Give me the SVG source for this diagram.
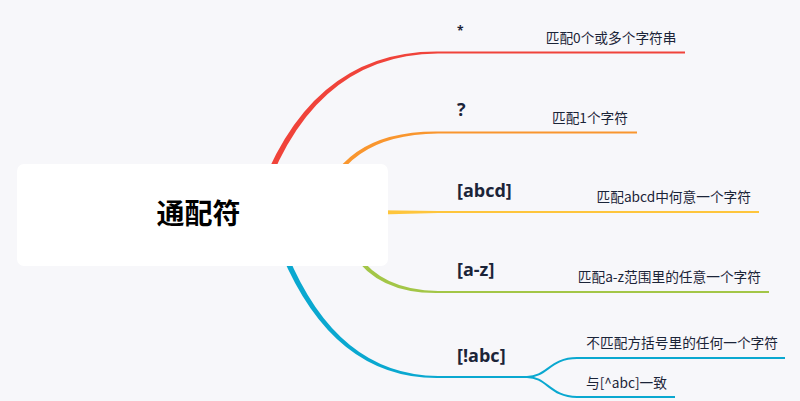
<svg xmlns="http://www.w3.org/2000/svg" width="800" height="401" viewBox="0 0 800 401">
<style>
.lbl{font-family:"Open Sans","Noto Sans CJK SC",sans-serif;font-weight:700;font-size:18px;fill:#1B2438}
.sub{font-family:"Noto Sans CJK SC","Noto Sans",sans-serif;font-size:13.7px;fill:#1B2438;text-anchor:end}
.ln{fill:none;stroke-width:2;stroke-linecap:butt}
</style>
<rect width="800" height="401" fill="#F7F7FA"/>
<g id="connectors">
  <path d="M252 213 Q303.5 50.5 438 51.5 L438 53.5 Q306.5 54.5 258 215 Z" fill="#F0433A"/>
  <path d="M438 52.5 H685" class="ln" stroke="#F0433A"/>
  <path d="M317.6 213.5 Q337 130.5 438 131.5 L438 133.5 Q339.5 134.5 322.4 214.5 Z" fill="#F9962E"/>
  <path d="M438 132.5 H637" class="ln" stroke="#F9962E"/>
  <path d="M380 210.2 L438 211 L438 213 L380 214.4 Z" fill="#FEC53C"/>
  <path d="M438 212 H759" class="ln" stroke="#FEC53C"/>
  <path d="M342.4 213.5 Q356.5 290 438 291 L438 293 Q353.5 294 337.6 214.5 Z" fill="#A3C647"/>
  <path d="M438 292 H769" class="ln" stroke="#A3C647"/>
  <path d="M272.9 213.1 Q321.5 375 438 376 L438 378 Q318.5 379 267.1 214.9 Z" fill="#0AA8D0"/>
  <path d="M437 377 H527 C547 377 550 358 577 358 H785" class="ln" stroke="#0AA8D0"/>
  <path d="M527 377 C547 377 550 397 577 397 H675" class="ln" stroke="#0AA8D0"/>
</g>
<g id="root">
  <rect x="17" y="164" width="371" height="102" rx="7" fill="#FFFFFF"/>
  <text x="198.5" y="224" text-anchor="middle" font-family="Noto Sans CJK SC, sans-serif" font-weight="700" font-size="28" fill="#000000">通配符</text>
</g>
<g id="n-star">
  <text class="lbl" x="457" y="35" style="font-size:12px">*</text>
  <text class="sub" x="676.5" y="42.5">匹配0个或多个字符串</text>
</g>
<g id="n-q">
  <text class="lbl" x="457" y="116">?</text>
  <text class="sub" x="628" y="122.5">匹配1个字符</text>
</g>
<g id="n-abcd">
  <text class="lbl" x="457" y="196.5">[abcd]</text>
  <text class="sub" x="751" y="202">匹配abcd中何意一个字符</text>
</g>
<g id="n-az">
  <text class="lbl" x="457" y="276">[a-z]</text>
  <text class="sub" x="761" y="282">匹配a-z范围里的任意一个字符</text>
</g>
<g id="n-notabc">
  <text class="lbl" x="457" y="361.5">[!abc]</text>
</g>
<g id="n-not-desc">
  <text class="sub" x="778" y="348">不匹配方括号里的任何一个字符</text>
</g>
<g id="n-caret">
  <text class="sub" x="667" y="388">与[^abc]一致</text>
</g>
</svg>
